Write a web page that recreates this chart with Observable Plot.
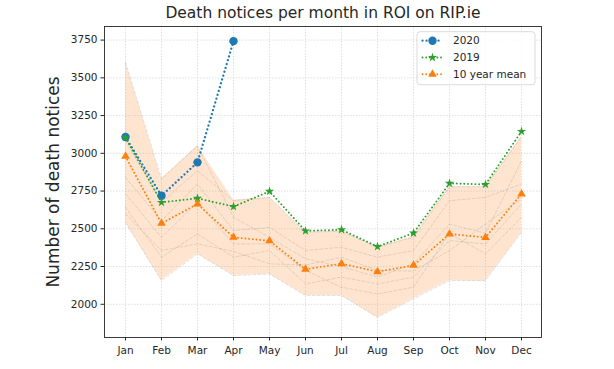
<!DOCTYPE html>
<html><head><meta charset="utf-8">
<script src="https://cdn.jsdelivr.net/npm/d3@7"></script>
<script src="https://cdn.jsdelivr.net/npm/@observablehq/plot@0.6"></script>
<style>body{margin:0;background:#fff;} svg{display:block}</style>
</head><body><div id="chart"></div>
<script>
const months = ["Jan","Feb","Mar","Apr","May","Jun","Jul","Aug","Sep","Oct","Nov","Dec"];
const yTicks = [2000, 2250, 2500, 2750, 3000, 3250, 3500, 3750];
const y2020 = [3108, 2719, 2940, 3743];
const y2019 = [3105, 2675, 2702, 2647, 2748, 2486, 2494, 2382, 2472, 2801, 2794, 3145];
const mean10 = [2980, 2536, 2665, 2444, 2420, 2232, 2269, 2216, 2258, 2466, 2443, 2731];
const bandUpper = [3605, 2830, 3050, 2690, 2708, 2477, 2484, 2378, 2450, 2779, 2779, 3112];
const bandLower = [2543, 2157, 2334, 2190, 2201, 2058, 2058, 1910, 2036, 2157, 2155, 2472];
const past2010 = [3602, 2830, 3050, 2576, 2444, 2301, 2250, 2180, 2268, 2532, 2470, 2951];
const past2011 = [2543, 2157, 2334, 2190, 2201, 2058, 2058, 1914, 2036, 2157, 2157, 2477];
const past2012 = [3083, 2675, 2885, 2686, 2708, 2477, 2484, 2378, 2444, 2779, 2779, 3110];
const past2013 = [2841, 2554, 2797, 2488, 2510, 2356, 2378, 2312, 2356, 2686, 2708, 2797];
const past2014 = [2642, 2312, 2466, 2312, 2356, 2135, 2180, 2135, 2180, 2422, 2400, 2664];
const past2015 = [2731, 2444, 2675, 2400, 2400, 2224, 2113, 2069, 2113, 2470, 2334, 2576];
const past2016 = [2600, 2356, 2400, 2350, 2268, 2260, 2312, 2224, 2220, 2356, 2532, 2700];
const pastYears = [past2010, past2011, past2012, past2013, past2014, past2015, past2016];

const titleText = "Death notices per month in ROI on RIP.ie";
const yLabelText = "Number of death notices";
const legendLabels = ["2020", "2019", "10 year mean"];

const C20 = "#1f77b4", C19 = "#2ca02c", CM = "#ff7f0e";
const W = 614, H = 369, mL = 104, mR = 73, mT = 26, mB = 32;

const rows = arr => arr.map((v, i) => ({m: months[i], v}));
const bandData = months.map((m, i) => ({m, lo: bandLower[i], hi: bandUpper[i]}));
const grey = pastYears.flatMap((arr, k) => arr.map((v, i) => ({m: months[i], v, k})));
const gridStyle = {stroke: "#b0b0b0", strokeOpacity: 0.5, strokeWidth: 0.8, strokeDasharray: "1.5,1.5"};
const dotted20 = {strokeWidth: 2.3, strokeDasharray: "0.01,4", strokeLinecap: "round"};
const dotted = {strokeWidth: 1.9, strokeDasharray: "0.01,3.7", strokeLinecap: "round"};

const plot = Plot.plot({
  width: W, height: H,
  marginLeft: mL, marginRight: mR, marginTop: mT, marginBottom: mB,
  style: {fontFamily: "DejaVu Sans", background: "#fff", color: "#262626", overflow: "visible"},
  x: {type: "point", domain: months, padding: 0.55, label: null},
  y: {domain: [1780, 3840], label: null},
  marks: [
    Plot.areaY(bandData, {x: "m", y1: "lo", y2: "hi", fill: CM, fillOpacity: 0.2}),
    Plot.gridX(months, gridStyle),
    Plot.gridY(yTicks, gridStyle),
    Plot.line(grey, {x: "m", y: "v", z: "k", stroke: "#808080", strokeOpacity: 0.3, strokeWidth: 0.8, strokeDasharray: "3,2"}),
    Plot.line(rows(y2020), {x: "m", y: "v", stroke: C20, ...dotted20}),
    Plot.dot(rows(y2020), {x: "m", y: "v", fill: C20, r: 4.2, symbol: "circle"}),
    Plot.line(rows(y2019), {x: "m", y: "v", stroke: C19, ...dotted}),
    Plot.dot(rows(y2019), {x: "m", y: "v", fill: C19, r: 2.9, symbol: "star"}),
    Plot.line(rows(mean10), {x: "m", y: "v", stroke: CM, ...dotted}),
    Plot.dot(rows(mean10), {x: "m", y: "v", fill: CM, r: 3.2, symbol: "triangle"}),
    Plot.frame({stroke: "#262626", strokeWidth: 0.9}),
    Plot.axisX({tickSize: 3.5, tickPadding: 6, fontSize: 10.5, label: null}),
    Plot.axisY({ticks: yTicks, tickSize: 3.5, tickPadding: 3.5, fontSize: 10.5, label: null, tickFormat: d => String(d)}),
    Plot.text([titleText], {text: d => d, frameAnchor: "top", lineAnchor: "middle", dy: -13, fontSize: 15.5}),
    Plot.text([yLabelText], {text: d => d, frameAnchor: "left", textAnchor: "middle", lineAnchor: "middle", rotate: -90, dx: -51, fontSize: 17})
  ]
});
document.getElementById("chart").appendChild(plot);

// legend
const svg = d3.select(plot);
const lw = 118, lh = 53;
const lx = W - mR - 6 - lw, ly = mT + 5.7;
const lg = svg.append("g").attr("font-family", "DejaVu Sans").attr("font-size", 10.5)
  .attr("fill", "#262626").attr("text-anchor", "start");
lg.append("rect").attr("x", lx).attr("y", ly).attr("width", lw).attr("height", lh)
  .attr("rx", 3).attr("fill", "#fff").attr("fill-opacity", 0.8).attr("stroke", "#d0d0d0").attr("stroke-width", 0.8);
const entries = [
  {label: legendLabels[0], color: C20, sym: d3.symbolCircle, size: Math.PI * 4.2 * 4.2, st: dotted20},
  {label: legendLabels[1], color: C19, sym: d3.symbolStar, size: Math.PI * 2.9 * 2.9, st: dotted},
  {label: legendLabels[2], color: CM, sym: d3.symbolTriangle, size: Math.PI * 3.2 * 3.2, st: dotted}
];
entries.forEach((e, i) => {
  const cy = ly + 9 + i * 16.8;
  lg.append("line").attr("x1", lx + 5.5).attr("x2", lx + 25.5).attr("y1", cy).attr("y2", cy)
    .attr("stroke", e.color).attr("stroke-width", e.st.strokeWidth)
    .attr("stroke-dasharray", e.st.strokeDasharray).attr("stroke-linecap", "round");
  lg.append("path").attr("d", d3.symbol(e.sym, e.size)()).attr("transform", `translate(${lx + 15.5},${cy})`).attr("fill", e.color);
  lg.append("text").attr("x", lx + 36).attr("y", cy).attr("dy", "0.35em").text(e.label);
});
</script></body></html>
